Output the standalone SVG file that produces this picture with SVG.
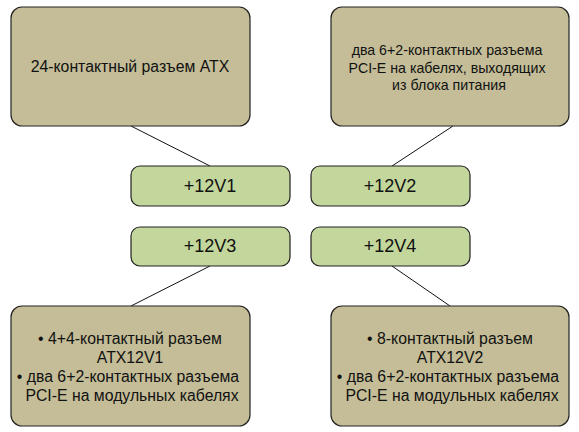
<svg xmlns="http://www.w3.org/2000/svg" width="579" height="432" viewBox="0 0 579 432">
<style>
.tan{fill:#C4BD97;stroke:#222;stroke-width:1.2}
.grn{fill:#C3D69B;stroke:#222;stroke-width:1.2}
.t{font-family:"Liberation Sans",Arial,sans-serif;fill:#111;text-anchor:middle}
.s14{font-size:14.2px}
.s16{font-size:15.8px}
.s18{font-size:18px}
.c{stroke:#111;stroke-width:1;fill:none}
</style>
<rect width="579" height="432" fill="#fff"/>
<g id="connectors">
<line class="c" x1="131" y1="126" x2="210" y2="166"/>
<line class="c" x1="453" y1="126" x2="392" y2="166"/>
<line class="c" x1="210" y1="266" x2="131" y2="306"/>
<line class="c" x1="392" y1="266" x2="450" y2="306"/>
</g>
<g id="atx24">
<rect class="tan" x="11" y="7" width="239" height="119" rx="11"/>
<text class="t s16" x="130" y="72">24-контактный разъем ATX</text>
</g>
<g id="pcie-psu">
<rect class="tan" x="331" y="7" width="238" height="119" rx="11"/>
<text class="t s14" x="447" y="55">два 6+2-контактных разъема</text>
<text class="t s14" x="447" y="73">PCI-E на кабелях, выходящих</text>
<text class="t s14" x="449" y="90">из блока питания</text>
</g>
<g id="v1">
<rect class="grn" x="131" y="166" width="159" height="40" rx="9"/>
<text class="t s18" x="210" y="192">+12V1</text>
</g>
<g id="v2">
<rect class="grn" x="311" y="166" width="159" height="40" rx="9"/>
<text class="t s18" x="390" y="192">+12V2</text>
</g>
<g id="v3">
<rect class="grn" x="131" y="227" width="159" height="39" rx="9"/>
<text class="t s18" x="210" y="252">+12V3</text>
</g>
<g id="v4">
<rect class="grn" x="311" y="227" width="159" height="39" rx="9"/>
<text class="t s18" x="390" y="252">+12V4</text>
</g>
<g id="atx12v1">
<rect class="tan" x="11" y="306" width="239" height="120" rx="11"/>
<text class="t s16" x="130" y="344">• 4+4-контактный разъем</text>
<text class="t s16" x="130" y="363">ATX12V1</text>
<text class="t s16" x="128" y="382">• два 6+2-контактных разъема</text>
<text class="t s16" x="132" y="401">PCI-E на модульных кабелях</text>
</g>
<g id="atx12v2">
<rect class="tan" x="331" y="306" width="238" height="120" rx="11"/>
<text class="t s16" x="450" y="344">• 8-контактный разъем</text>
<text class="t s16" x="450" y="363">ATX12V2</text>
<text class="t s16" x="448" y="382">• два 6+2-контактных разъема</text>
<text class="t s16" x="452" y="401">PCI-E на модульных кабелях</text>
</g>
</svg>
